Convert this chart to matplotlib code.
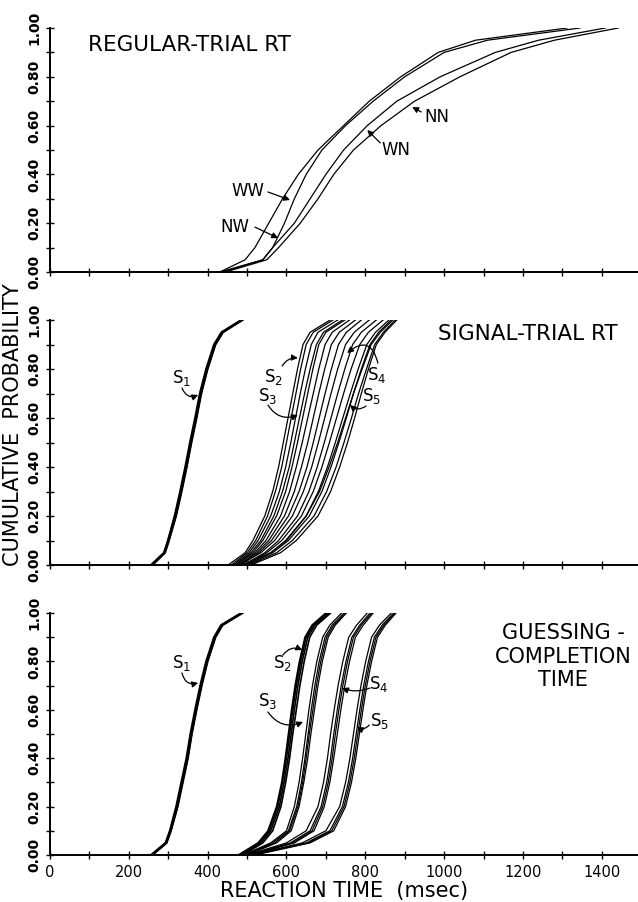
import numpy as np
import matplotlib
matplotlib.use('Agg')
import matplotlib.pyplot as plt

# cumulative probability levels at which the RT quantiles were read
P_LEVELS = [0, .05, .1, .2, .3, .4, .5, .6, .7, .8, .9, .95, 1.0]

# --- regular-trial RT (msec at each P level)
RT_WW = [431, 495, 520, 555, 590, 630, 680, 745, 810, 890, 985, 1080, 1312]
RT_NW = [440, 540, 565, 595, 620, 650, 690, 750, 820, 900, 1000, 1110, 1345]
RT_WN = [431, 540, 565, 620, 660, 700, 745, 805, 880, 990, 1130, 1240, 1409]
RT_NN = [445, 550, 580, 635, 680, 720, 770, 840, 925, 1040, 1170, 1280, 1442]

# --- signal-trial RT, four conditions per subject
SIG_S1 = [
    [258, 290, 300, 318, 332, 345, 357, 370, 382, 398, 418, 437, 487],
    [260, 292, 302, 320, 334, 347, 359, 372, 384, 400, 420, 439, 489],
    [256, 289, 299, 316, 330, 343, 355, 368, 380, 396, 416, 435, 485],
    [259, 291, 301, 319, 333, 346, 358, 371, 383, 399, 419, 438, 486],
]
SIG_S2 = [
    [452, 495, 515, 545, 565, 580, 592, 604, 616, 628, 642, 660, 711],
    [460, 500, 522, 552, 572, 588, 600, 612, 624, 636, 650, 668, 718],
    [465, 505, 528, 560, 582, 598, 611, 623, 635, 648, 663, 680, 730],
    [470, 510, 535, 568, 590, 607, 620, 633, 646, 660, 676, 694, 742],
]
SIG_S3 = [
    [470, 515, 540, 575, 598, 614, 628, 641, 654, 667, 682, 700, 748],
    [475, 520, 548, 585, 608, 625, 640, 654, 668, 682, 698, 716, 760],
    [480, 525, 555, 595, 620, 638, 654, 668, 682, 697, 714, 734, 775],
    [485, 530, 562, 605, 632, 652, 668, 683, 698, 714, 732, 752, 790],
]
SIG_S4 = [
    [480, 535, 570, 615, 643, 664, 681, 697, 713, 730, 750, 772, 810],
    [490, 545, 580, 628, 657, 678, 696, 713, 730, 748, 768, 790, 828],
    [495, 550, 588, 638, 668, 690, 709, 727, 745, 764, 786, 808, 845],
    [500, 560, 598, 650, 681, 704, 724, 743, 762, 782, 804, 826, 860],
]
SIG_S5 = [
    [500, 565, 605, 658, 690, 713, 733, 752, 770, 790, 812, 834, 866],
    [505, 575, 615, 670, 702, 726, 746, 765, 783, 803, 824, 846, 876],
    [490, 560, 600, 650, 684, 708, 730, 750, 770, 792, 815, 838, 870],
    [510, 585, 625, 680, 712, 735, 755, 773, 790, 808, 828, 850, 880],
]

# --- guessing-completion time
GC_S1 = [
    [258, 294, 305, 322, 335, 348, 358, 370, 383, 398, 418, 436, 487],
    [260, 296, 307, 324, 337, 350, 360, 372, 385, 400, 420, 438, 489],
    [256, 293, 304, 320, 333, 346, 356, 368, 381, 396, 416, 434, 485],
    [259, 295, 306, 323, 336, 349, 359, 371, 384, 399, 419, 437, 486],
]
GC_S2 = [
    [480, 530, 556, 578, 590, 600, 608, 616, 625, 636, 650, 668, 703],
    [485, 535, 560, 582, 594, 604, 612, 620, 629, 640, 654, 672, 708],
    [478, 528, 553, 575, 588, 597, 605, 613, 622, 633, 647, 665, 700],
    [490, 540, 565, 586, 598, 608, 616, 625, 634, 645, 659, 677, 712],
]
GC_S3 = [
    [490, 560, 600, 620, 632, 641, 649, 657, 666, 677, 692, 710, 740],
    [495, 565, 605, 626, 638, 647, 655, 663, 672, 683, 698, 716, 746],
    [500, 575, 612, 632, 644, 654, 662, 671, 680, 691, 706, 724, 752],
    [495, 570, 608, 629, 641, 650, 658, 667, 676, 687, 702, 720, 750],
]
GC_S4 = [
    [500, 600, 650, 680, 694, 704, 712, 721, 731, 743, 758, 778, 805],
    [505, 610, 660, 688, 702, 712, 720, 729, 739, 751, 766, 786, 812],
    [510, 620, 670, 696, 710, 720, 729, 738, 748, 760, 775, 795, 820],
    [505, 615, 665, 692, 706, 716, 724, 733, 743, 755, 770, 790, 816],
]
GC_S5 = [
    [510, 640, 700, 735, 750, 761, 770, 779, 789, 801, 816, 836, 866],
    [515, 650, 710, 742, 757, 768, 777, 786, 796, 808, 823, 843, 872],
    [520, 660, 720, 750, 765, 776, 785, 794, 804, 816, 831, 851, 878],
    [515, 655, 715, 746, 761, 772, 781, 790, 800, 812, 827, 847, 875],
]

X_TICKS = [0, 200, 400, 600, 800, 1000, 1200, 1400]
Y_TICKS = [0.0, 0.2, 0.4, 0.6, 0.8, 1.0]

W, H = 638, 902


def setup_axes(ax, show_xlabels):
    ax.set_xlim(0, 1492)
    ax.set_ylim(0, 1.0)
    for s in ['top', 'right']:
        ax.spines[s].set_visible(False)
    for s in ['left', 'bottom']:
        ax.spines[s].set_linewidth(1.4)
    ax.set_xticks(X_TICKS)
    ax.set_xticks(np.arange(100, 1500, 200), minor=True)
    ax.set_yticks(Y_TICKS)
    ax.set_yticks(np.arange(0.1, 1.0, 0.2), minor=True)
    ax.tick_params(which='both', direction='inout', length=6, width=1.0)
    ax.set_yticklabels(['%.2f' % v for v in Y_TICKS], rotation=90,
                       va='center', fontsize=10, fontweight='bold')
    if show_xlabels:
        ax.set_xticklabels([str(v) for v in X_TICKS], fontsize=10.5)
        ax.tick_params(axis='x', pad=4)
    else:
        ax.set_xticklabels([])
    ax.tick_params(axis='y', pad=3)
    ax.patch.set_alpha(0)


def draw_group(ax, group, lw=0.9):
    for rt in group:
        ax.plot(rt, P_LEVELS, color='k', lw=lw)


def label(ax, txt, xy_text, xy_start, xy_tip, rad=0.0, size=12):
    # text, then an arrow from a chosen start point to the curve
    ax.text(xy_text[0], xy_text[1], txt, fontsize=size, ha='center', va='center')
    ax.annotate('', xy=xy_tip, xytext=xy_start,
                arrowprops=dict(arrowstyle='-|>', color='k', lw=0.9,
                                mutation_scale=9, shrinkA=0, shrinkB=0,
                                connectionstyle='arc3,rad=%s' % rad))


fig = plt.figure(figsize=(W / 100, H / 100), dpi=100)
left = 50 / W
width = 1 - left
ax1 = fig.add_axes([left, 1 - 272 / H, width, 244 / H])
ax2 = fig.add_axes([left, 1 - 565 / H, width, 245 / H])
ax3 = fig.add_axes([left, 1 - 855 / H, width, 242 / H])

# regular-trial RT
for rt in [RT_WW, RT_NW, RT_WN, RT_NN]:
    ax1.plot(rt, P_LEVELS, color='k', lw=0.9)
setup_axes(ax1, False)
ax1.text(96, 0.93, 'REGULAR-TRIAL RT', fontsize=15.5, ha='left', va='center')
label(ax1, 'WW', (503, 0.332), (553, 0.328), (609, 0.295))
label(ax1, 'NW', (470, 0.184), (520, 0.184), (579, 0.139))
label(ax1, 'WN', (878, 0.50), (838, 0.529), (805, 0.582))
label(ax1, 'NN', (982, 0.635), (942, 0.656), (919, 0.676))

# signal-trial RT
draw_group(ax2, SIG_S1, lw=1.4)
for g in [SIG_S2, SIG_S3, SIG_S4, SIG_S5]:
    draw_group(ax2, g)
setup_axes(ax2, False)
ax2.text(985, 0.943, 'SIGNAL-TRIAL RT', fontsize=15.5, ha='left', va='center')
label(ax2, r'S$_1$', (335, 0.765), (335, 0.722), (376, 0.694), rad=0.5)
label(ax2, r'S$_2$', (566, 0.767), (589, 0.812), (629, 0.845), rad=-0.3)
label(ax2, r'S$_3$', (553, 0.690), (553, 0.653), (629, 0.612), rad=0.4)
label(ax2, r'S$_4$', (830, 0.776), (832, 0.824), (754, 0.865), rad=0.8)
label(ax2, r'S$_5$', (817, 0.690), (802, 0.649), (761, 0.653), rad=-0.4)

# guessing-completion time
draw_group(ax3, GC_S1, lw=1.4)
draw_group(ax3, GC_S2, lw=1.2)
for g in [GC_S3, GC_S4, GC_S5]:
    draw_group(ax3, g)
setup_axes(ax3, True)
ax3.text(1302, 0.82, 'GUESSING -\nCOMPLETION\nTIME', fontsize=15,
         ha='center', va='center', linespacing=1.2)
label(ax3, r'S$_1$', (335, 0.795), (335, 0.752), (376, 0.711), rad=0.5)
label(ax3, r'S$_2$', (589, 0.793), (591, 0.826), (640, 0.847), rad=-0.4)
label(ax3, r'S$_3$', (553, 0.635), (553, 0.591), (642, 0.550), rad=0.4)
label(ax3, r'S$_4$', (835, 0.705), (812, 0.690), (741, 0.690), rad=-0.2)
label(ax3, r'S$_5$', (835, 0.555), (810, 0.537), (779, 0.529), rad=-0.4)
ax3.set_xlabel('REACTION TIME  (msec)', fontsize=15, labelpad=1)

fig.text(13 / W, 1 - 425 / H, 'CUMULATIVE  PROBABILITY', rotation=90,
         fontsize=15, ha='center', va='center')

fig.savefig('out.png', dpi=100)
